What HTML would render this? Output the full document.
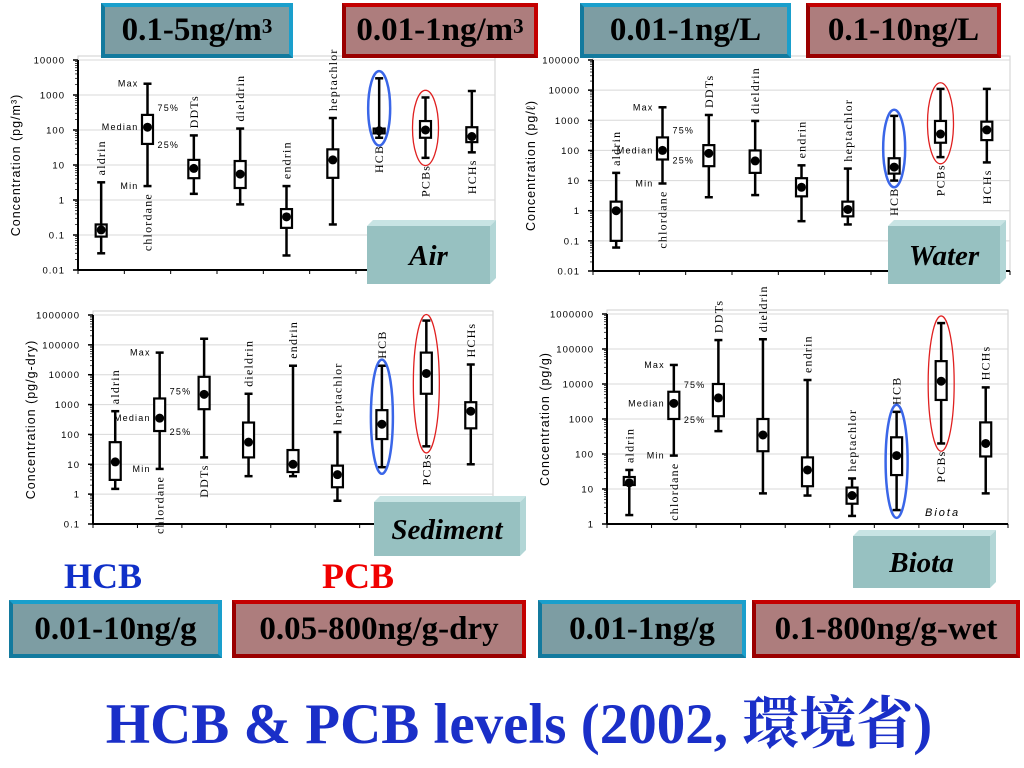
<!DOCTYPE html>
<html><head><meta charset="utf-8">
<style>
body{margin:0;background:#fff;width:1024px;height:768px;overflow:hidden;position:relative;font-family:"Liberation Serif",serif}
.ban{position:absolute;box-sizing:border-box;font:bold 33px "Liberation Serif",serif;color:#000;display:flex;align-items:center;justify-content:center;white-space:nowrap}
.teal{background:#7d9da3;border:4px solid #1a9fcc;border-left-color:#137a9e;border-bottom-color:#137a9e}
.mauve{background:#ad7d7d;border:4px solid #c40000;border-left-color:#9a0000;border-bottom-color:#9a0000}
sup{font-size:21px;position:relative;top:-4px}
</style></head><body>
<svg id="chart" width="1024" height="768" style="position:absolute;left:0;top:0"></svg>

<div class="ban teal" style="left:101px;top:3px;width:192px;height:55px">0.1-5ng/m<sup>3</sup></div>
<div class="ban mauve" style="left:342px;top:3px;width:196px;height:55px">0.01-1ng/m<sup>3</sup></div>
<div class="ban teal" style="left:580px;top:3px;width:211px;height:55px">0.01-1ng/L</div>
<div class="ban mauve" style="left:806px;top:3px;width:195px;height:55px">0.1-10ng/L</div>

<div style="position:absolute;left:64px;top:555px;font:bold 36px 'Liberation Serif',serif;color:#1030c8">HCB</div>
<div style="position:absolute;left:322px;top:555px;font:bold 36px 'Liberation Serif',serif;color:#f00000">PCB</div>

<div class="ban teal" style="left:9px;top:600px;width:213px;height:58px">0.01-10ng/g</div>
<div class="ban mauve" style="left:232px;top:600px;width:294px;height:58px">0.05-800ng/g-dry</div>
<div class="ban teal" style="left:538px;top:600px;width:208px;height:58px">0.01-1ng/g</div>
<div class="ban mauve" style="left:752px;top:600px;width:268px;height:58px">0.1-800ng/g-wet</div>

<div style="position:absolute;left:0;width:1038px;top:678px;text-align:center;font:bold 57px 'Liberation Serif','Noto Serif CJK SC',serif;color:#1a2fc8;white-space:nowrap">HCB &amp; PCB levels (2002, 環境省)</div>

<script>
const categories = ["aldrin","chlordane","DDTs","dieldrin","endrin","heptachlor","HCB","PCBs","HCHs"];
// [min, q1, median, q3, max]
const airStats = [[0.03,0.09,0.14,0.2,3.2],[2.5,40,120,270,2100],[1.5,4.2,8,14,70],[0.75,2.2,5.5,13,110],[0.026,0.16,0.33,0.55,2.5],[0.2,4.3,14,28,220],[60,80,95,110,3000],[16,60,100,180,850],[23,45,65,120,1300]];
const waterStats = [[0.06,0.1,1,2,18],[8,50,100,270,2700],[2.8,30,80,150,1500],[3.3,18,45,100,950],[0.45,3,6,12,32],[0.35,0.65,1.1,2,25],[10,17,28,55,1400],[60,180,350,950,11000],[40,220,480,900,11000]];
const sedimentStats = [[1.5,3,12,55,600],[7,130,350,1600,55000],[17,700,2200,8500,160000],[4,17,55,250,2300],[4,5.5,10,30,20000],[0.6,1.7,4.5,9,120],[8,70,220,650,20000],[40,2300,11000,55000,650000],[10,160,600,1200,22000]];
const biotaStats = [[1.8,13,15,22,35],[90,1000,2800,6000,35000],[450,1200,4000,10000,180000],[7.5,120,350,1000,190000],[6.5,12,35,80,13000],[1.7,3.8,6.5,11,20],[2.5,25,90,300,1600],[200,3500,12000,45000,550000],[7.5,85,200,800,8000]];
const airTicks = ["0.01","0.1","1","10","100","1000","10000"];
const waterTicks = ["0.01","0.1","1","10","100","1000","10000","100000"];
const sedimentTicks = ["0.1","1","10","100","1000","10000","100000","1000000"];
const biotaTicks = ["1","10","100","1000","10000","100000","1000000"];

const panels = [
 {id:"air",stats:airStats,ticks:airTicks,x0:78,x1:495,yT:60,yB:270,lo:-2,hi:4,unit:"(pg/m³)",sides:"abaaaabbb",title:"Air",bx:367,by:226,bw:123,bh:58},
 {id:"water",stats:waterStats,ticks:waterTicks,x0:593,x1:1010,yT:60,yB:271,lo:-2,hi:5,unit:"(pg/ℓ)",sides:"abaaaabbb",title:"Water",bx:888,by:226,bw:112,bh:58},
 {id:"sediment",stats:sedimentStats,ticks:sedimentTicks,x0:93,x1:493,yT:315,yB:524,lo:-1,hi:6,unit:"(pg/g-dry)",sides:"abbaaaaba",title:"Sediment",bx:374,by:502,bw:146,bh:54},
 {id:"biota",stats:biotaStats,ticks:biotaTicks,x0:607,x1:1008,yT:314,yB:524,lo:0,hi:6,unit:"(pg/g)",sides:"abaaaaaba",title:"Biota",bx:853,by:536,bw:137,bh:52}
];
const svg=document.getElementById('chart');
const NS="http://www.w3.org/2000/svg";
function mk(tag,attrs,parent){const e=document.createElementNS(NS,tag);for(const k in attrs)e.setAttribute(k,attrs[k]);(parent||svg).appendChild(e);return e;}

panels.forEach(p=>{
  const g=mk('g',{});
  
  
  const Y=v=>p.yB-(Math.log10(v)-p.lo)/(p.hi-p.lo)*(p.yB-p.yT);
  const step=(p.x1-p.x0)/categories.length;
  const X=i=>p.x0+(i+0.5)*step;
  const fr=mk('rect',{x:p.x0,y:p.yT-4,width:p.x1-p.x0,height:p.yB-p.yT+4,fill:'none',stroke:'#cfcfcf','stroke-width':1},g);
  
  
  p.ticks.forEach((t,k)=>{
    const y=Y(Math.pow(10,p.lo+k));
    if(k>0){const gl=mk('line',{x1:p.x0,x2:p.x1,y1:y,y2:y,stroke:'#d8d8d8','stroke-width':1},g);
      
      }
    mk('line',{x1:p.x0-5,x2:p.x0,y1:y,y2:y,stroke:'#000','stroke-width':1.5},g);
    if(k<p.ticks.length-1){for(let m=2;m<10;m++){const ym=Y(m*Math.pow(10,p.lo+k));mk('line',{x1:p.x0-3,x2:p.x0,y1:ym,y2:ym,stroke:'#000','stroke-width':0.7},g);}}
    const tl=mk('text',{x:p.x0-13,y:y+3.5,'text-anchor':'end','font-family':'Liberation Sans, sans-serif','font-size':9.5,'letter-spacing':1},g);
    tl.textContent=t;
    
    
  });
  mk('line',{x1:p.x0,x2:p.x0,y1:p.yT,y2:p.yB,stroke:'#000','stroke-width':2},g);
  mk('line',{x1:p.x0,x2:p.x1,y1:p.yB,y2:p.yB,stroke:'#000','stroke-width':2},g);
  for(let i=0;i<=categories.length;i++){const xt=p.x0+i*step;mk('line',{x1:xt,x2:xt,y1:p.yB,y2:p.yB+4,stroke:'#000','stroke-width':1},g);}
  const cy=(p.yT+p.yB)/2, cx=p.x0-58;
  const yt=mk('text',{x:cx,y:cy,transform:`rotate(-90 ${cx} ${cy})`,'text-anchor':'middle','font-family':'Liberation Sans, sans-serif','font-size':12.5,'letter-spacing':1},g);
  yt.textContent='Concentration  '+p.unit;
  
  
  p.stats.forEach((s,i)=>{
    const x=X(i);
    const bg=mk('g',{},g);
    
    
    mk('line',{x1:x,x2:x,y1:Y(s[0]),y2:Y(s[4]),stroke:'#000','stroke-width':2.5},bg);
    mk('line',{x1:x-4,x2:x+4,y1:Y(s[0]),y2:Y(s[0]),stroke:'#000','stroke-width':2.5},bg);
    mk('line',{x1:x-4,x2:x+4,y1:Y(s[4]),y2:Y(s[4]),stroke:'#000','stroke-width':2.5},bg);
    mk('rect',{x:x-5.5,y:Y(s[3]),width:11,height:Y(s[1])-Y(s[3]),fill:'#fff',stroke:'#000','stroke-width':2.2},bg);
    mk('circle',{cx:x,cy:Y(s[2]),r:4.5,fill:'#000'},bg);
    const above=p.sides[i]==='a';
    const ly=above?Y(s[4])-7:Y(s[0])+7;
    const lx=x+4;
    const lab=mk('text',{x:lx,y:ly,transform:`rotate(-90 ${lx} ${ly})`,'text-anchor':above?'start':'end','font-family':'Liberation Serif, serif','font-size':12,'letter-spacing':1.2},g);
    lab.textContent=categories[i];
    
    
    if(i===6||i===7){
      const e=mk('ellipse',{cx:x,cy:(Y(s[0]*0.6)+Y(s[4]*1.6))/2,rx:i===6?11:13,ry:(Y(s[0]*0.6)-Y(s[4]*1.6))/2,fill:'none',stroke:i===6?'#3a66e8':'#e02020','stroke-width':i===6?2.5:1.3},g);
      
      
    }
  });
  const s=p.stats[1], xc=X(1);
  [["Max",s[4],-1],["Median",s[2],-1],["Min",s[0],-1],["75%",s[3],1],["25%",s[1],1]].forEach(a=>{
    const t=mk('text',{x:a[2]<0?xc-9:xc+10,y:Y(a[1])+(a[0]==="75%"?-4:a[0]==="25%"?4:3),'text-anchor':a[2]<0?'end':'start','font-family':'Liberation Sans, sans-serif','font-size':9,'letter-spacing':1.2},g);
    t.textContent=a[0];
    
    
  });
  const lb=mk('g',{},g);
  
  
  mk('polygon',{points:`${p.bx},${p.by} ${p.bx+6},${p.by-6} ${p.bx+p.bw+6},${p.by-6} ${p.bx+p.bw},${p.by}`,fill:'#c8e4e4'},lb);
  mk('polygon',{points:`${p.bx+p.bw},${p.by} ${p.bx+p.bw+6},${p.by-6} ${p.bx+p.bw+6},${p.by+p.bh-6} ${p.bx+p.bw},${p.by+p.bh}`,fill:'#b2d6d6'},lb);
  mk('rect',{x:p.bx,y:p.by,width:p.bw,height:p.bh,fill:'#97c1c1'},lb);
  const tt=mk('text',{x:p.bx+p.bw/2,y:p.by+p.bh/2+10,'text-anchor':'middle','font-family':'Liberation Serif, serif','font-size':29,'font-weight':'bold','font-style':'italic'},lb);
  tt.textContent=p.title;
});
const bt=mk('text',{x:925,y:516,'font-family':'Liberation Sans, sans-serif','font-size':11,'font-style':'italic','letter-spacing':2});
bt.textContent='Biota';


</script>
</body></html>
